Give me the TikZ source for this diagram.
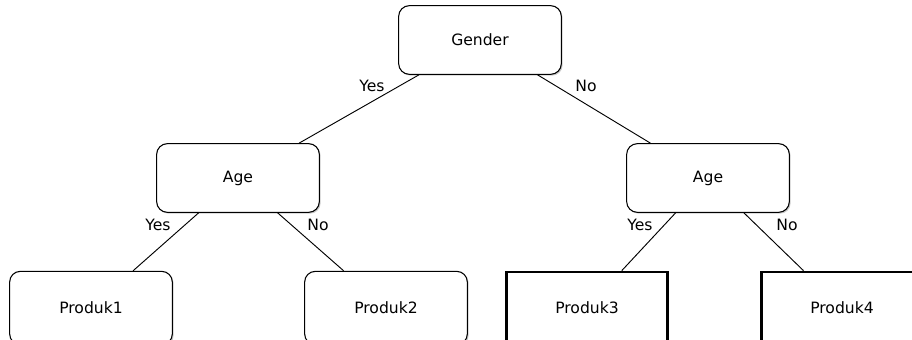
\documentclass[tikz,border=0pt]{standalone}
\usepackage{fontspec}
\setmainfont{DejaVu Sans}
\usetikzlibrary{shadows}

\begin{document}
\begin{tikzpicture}[x=0.75pt, y=-0.75pt,
    every node/.style={font=\fontsize{11.7}{14}\selectfont},
    decision/.style={draw, line width=0.8pt, rounded corners=8pt, fill=white,
        minimum width=122pt, minimum height=51.5pt,
        drop shadow={shadow xshift=1pt, shadow yshift=-1pt, fill=black!40}},
    leaf/.style={decision, minimum height=55pt},
    target/.style={draw, line width=2pt, fill=white,
        minimum width=121pt, minimum height=54pt,
        drop shadow={shadow xshift=1.2pt, shadow yshift=-1.2pt, fill=black!40}},
    edge/.style={draw, line width=0.7pt}]
                    \useasboundingbox (0,0) rectangle (912,339);
                    % Nodes
                    \node[decision] (gender) at (480,40) {Gender};
                    \node[decision] (ageL) at (238,178) {Age};
                    \node[decision] (ageR) at (708,178) {Age};
                    \node[leaf] (p1) at (91,308) {Produk1};
                    \node[leaf] (p2) at (386,308) {Produk2};
                    \node[target] (p3) at (587,308) {Produk3};
                    \node[target] (p4) at (842,308) {Produk4};
                    % Labels
                    \node (yes0) at (372,86) {Yes};
                    \node (no0) at (586,86) {No};
                    \node (yesL) at (158,225) {Yes};
                    \node (noL) at (318,225) {No};
                    \node (yesR) at (640,225) {Yes};
                    \node (noR) at (787,225) {No};
                    % Edges
                    \draw[edge] (gender) -- (ageL);
                    \draw[edge] (gender) -- (ageR);
                    \draw[edge] (ageL) -- (p1);
                    \draw[edge] (ageL) -- (p2);
                    \draw[edge] (ageR) -- (p3);
                    \draw[edge] (ageR) -- (p4);
                \end{tikzpicture}
\end{document}
